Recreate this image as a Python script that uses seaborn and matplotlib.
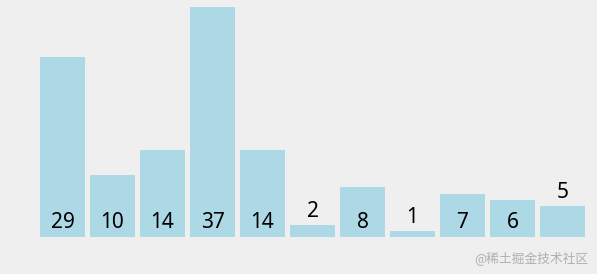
import matplotlib
matplotlib.use("Agg")
import matplotlib.pyplot as plt
import seaborn as sns
import pandas as pd

categories = [f"c{i}" for i in range(11)]
values = [29, 10, 14, 37, 14, 2, 8, 1, 7, 6, 5]
labels = [str(v) for v in values]

sns.set_theme(style="white")
plt.rcParams['font.family'] = ['Noto Sans CJK SC', 'DejaVu Sans']

bg = "#efefef"
fig = plt.figure(figsize=(5.97, 2.74), dpi=100, facecolor=bg)
ax = fig.add_axes([0, 0, 1, 1])
ax.set_facecolor(bg)

df = pd.DataFrame({"cat": categories, "val": values})
sns.barplot(data=df, x="cat", y="val", color="#add8e6", saturation=1,
            width=0.9, ax=ax, linewidth=0)

ax.set_xlim(-1.25, 10.69)
ax.set_ylim(-5.95, 38.13)
ax.axis("off")

for i, (v, lab) in enumerate(zip(values, labels)):
    if v >= 6:
        ax.annotate(lab, (i, 0), xytext=(0, 6.5), textcoords="offset points",
                    ha="center", va="baseline", fontsize=15, color="black",
                    family="Noto Sans")
    else:
        ax.annotate(lab, (i, v), xytext=(0, 5.5), textcoords="offset points",
                    ha="center", va="baseline", fontsize=15, color="black",
                    family="Noto Sans")

fig.text(0.985, 0.058, "@稀土掘金技术社区", ha="right", va="center",
         fontsize=9.2, color="#b0b0b0")

fig.savefig("out.png", dpi=100, facecolor=bg)
